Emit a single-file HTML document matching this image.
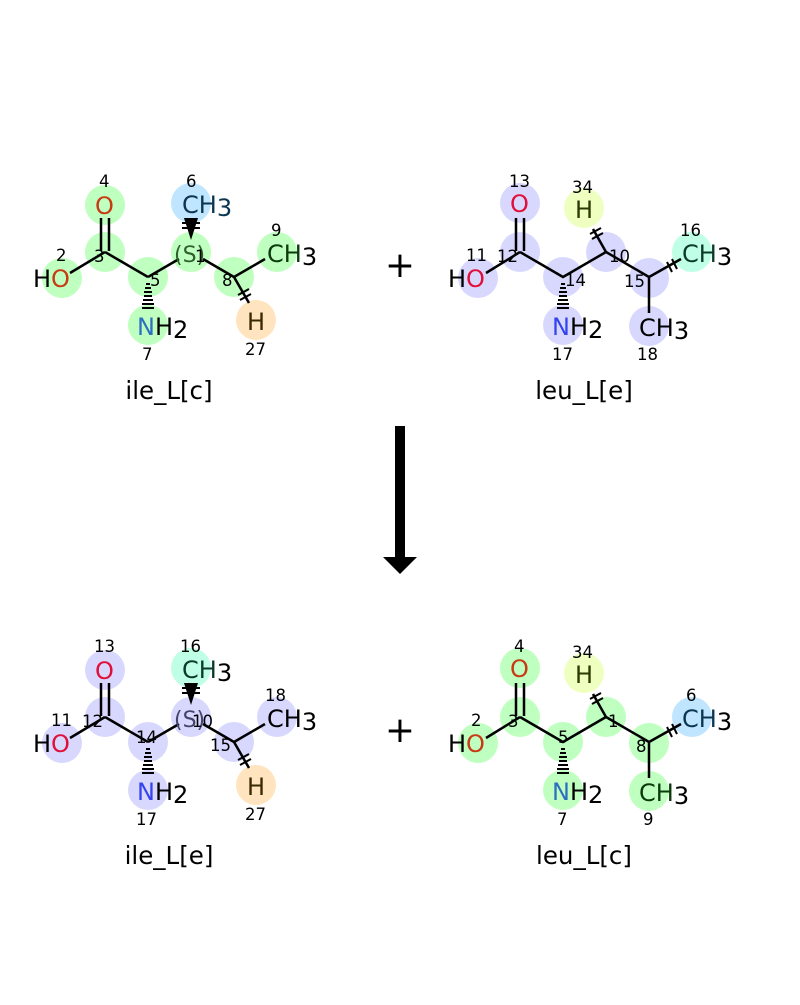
<!DOCTYPE html>
<html><head><meta charset="utf-8"><style>
html,body{margin:0;padding:0;background:#fff;}
svg text{font-family:"DejaVu Sans","Liberation Sans",sans-serif;}
.a{font-size:24px}
.n{font-size:16.5px;fill:#000}
.b{stroke:#000;stroke-width:2.5;fill:none}
</style></head><body>
<svg width="800" height="1000" viewBox="0 0 800 1000" xmlns="http://www.w3.org/2000/svg">
<rect width="800" height="1000" fill="#fff"/>

<g fill="#bfffbf">
<circle cx="62" cy="278" r="20"/><circle cx="105" cy="252" r="20"/><circle cx="105" cy="205" r="20"/>
<circle cx="148" cy="277" r="20"/><circle cx="148" cy="325" r="20"/><circle cx="191" cy="252" r="20"/>
<circle cx="234" cy="277" r="20"/><circle cx="277" cy="252" r="20"/>
</g>
<circle cx="191" cy="203" r="20" fill="#bfe5ff"/>
<circle cx="256" cy="320" r="20" fill="#ffe4bf"/>
<path class="b" d="M70,273 L105,252 M101,251 V218 M109,251 V218 M105,252 L148,277 M148,277 L179,259 M203,259 L234,277 L265,259 M234,277 L249,303"/>
<path d="M184,218 L198,218 L191,240 Z" fill="#000"/>
<path stroke="#000" stroke-width="2" d="M182,223 H200 M182,228 H200"/>
<path stroke="#000" stroke-width="2" d="M146,284 H150 M145,288 H151 M144,292 H152 M144,296 H152 M143,300 H153 M142,304 H154 M142,308 H154"/>
<path stroke="#000" stroke-width="2" d="M238,295 L249,289 M240,300 L251,294"/>
<g class="a">
<text x="33" y="287" fill="#000">H<tspan fill="#c83a14">O</tspan></text>
<text x="95" y="214" fill="#c83a14">O</text>
<text x="137" y="335" fill="#2e6fc0">N<tspan fill="#000">H</tspan><tspan fill="#000" dy="3">2</tspan></text>
<text x="182" y="213" fill="#0b3550">CH<tspan dy="3">3</tspan></text>
<text x="267" y="262" fill="#0b3a0b">CH<tspan fill="#000" dy="3">3</tspan></text>
<text x="247" y="330" fill="#3a2a00">H</text>
<text x="174" y="262" fill="#2f5f2f" font-size="22">(S)</text>
</g>
<g class="n">
<text x="99" y="187">4</text><text x="186" y="187">6</text><text x="56" y="261">2</text>
<text x="94" y="262">3</text><text x="150" y="286">5</text><text x="195" y="262">1</text>
<text x="222" y="286">8</text><text x="271" y="236">9</text><text x="142" y="360">7</text>
<text x="245" y="355">27</text>
</g>
<text x="169" y="399" font-size="24.5" text-anchor="middle">ile_L[c]</text>

<g fill="#d8d8ff">
<circle cx="478" cy="278" r="20"/><circle cx="520" cy="252" r="20"/><circle cx="520" cy="203" r="20"/>
<circle cx="563" cy="277" r="20"/><circle cx="563" cy="325" r="20"/><circle cx="606" cy="252" r="20"/>
<circle cx="649" cy="278" r="20"/><circle cx="649" cy="326" r="20"/>
</g>
<circle cx="584" cy="208" r="20" fill="#eeffc0"/>
<circle cx="692" cy="252" r="20" fill="#bfffe6"/>
<path class="b" d="M486,273 L520,252 M516,251 V218 M524,251 V218 M520,252 L563,277 L606,252 L649,277 L681,259 M606,252 L593,229 M649,277 V313"/>
<path stroke="#000" stroke-width="2" d="M561,284 H565 M560,288 H566 M559,292 H567 M559,296 H567 M558,300 H568 M557,304 H569 M557,308 H569"/>
<path stroke="#000" stroke-width="2" d="M590,234 L601,228 M592,239 L603,233 M667,262 L672,272 M672,259 L677,269"/>
<g class="a">
<text x="448" y="287" fill="#000">H<tspan fill="#e0103a">O</tspan></text>
<text x="510" y="212" fill="#e0103a">O</text>
<text x="552" y="335" fill="#3344ee">N<tspan fill="#000">H</tspan><tspan fill="#000" dy="3">2</tspan></text>
<text x="575" y="218" fill="#2a3a00">H</text>
<text x="682" y="262" fill="#0b3a2a">CH<tspan fill="#000" dy="3">3</tspan></text>
<text x="639" y="336" fill="#000">CH<tspan dy="3">3</tspan></text>
</g>
<g class="n">
<text x="509" y="187">13</text><text x="572" y="193">34</text><text x="466" y="261">11</text>
<text x="497" y="262">12</text><text x="565" y="286">14</text><text x="609" y="262">10</text>
<text x="624" y="287">15</text><text x="680" y="236">16</text><text x="552" y="360">17</text><text x="637" y="360">18</text>
</g>
<text x="584" y="399" font-size="24.5" text-anchor="middle">leu_L[e]</text>

<text x="400" y="277" font-size="36" text-anchor="middle">+</text>
<text x="400" y="742" font-size="36" text-anchor="middle">+</text>
<rect x="395" y="426" width="10" height="132" fill="#000"/>
<path d="M383,557 L417,557 L400,574 Z" fill="#000"/>

<g transform="translate(0,465)">
<g fill="#d8d8ff">
<circle cx="62" cy="278" r="20"/><circle cx="105" cy="252" r="20"/><circle cx="105" cy="205" r="20"/>
<circle cx="148" cy="277" r="20"/><circle cx="148" cy="325" r="20"/><circle cx="191" cy="252" r="20"/>
<circle cx="234" cy="277" r="20"/><circle cx="277" cy="252" r="20"/>
</g>
<circle cx="191" cy="203" r="20" fill="#bfffe6"/>
<circle cx="256" cy="320" r="20" fill="#ffe4bf"/>
<path class="b" d="M70,273 L105,252 M101,251 V218 M109,251 V218 M105,252 L148,277 M148,277 L179,259 M203,259 L234,277 L265,259 M234,277 L249,303"/>
<path d="M184,218 L198,218 L191,240 Z" fill="#000"/>
<path stroke="#000" stroke-width="2" d="M182,223 H200 M182,228 H200"/>
<path stroke="#000" stroke-width="2" d="M146,284 H150 M145,288 H151 M144,292 H152 M144,296 H152 M143,300 H153 M142,304 H154 M142,308 H154"/>
<path stroke="#000" stroke-width="2" d="M238,295 L249,289 M240,300 L251,294"/>
<g class="a">
<text x="33" y="287" fill="#000">H<tspan fill="#e0103a">O</tspan></text>
<text x="95" y="214" fill="#e0103a">O</text>
<text x="137" y="335" fill="#3344ee">N<tspan fill="#000">H</tspan><tspan fill="#000" dy="3">2</tspan></text>
<text x="182" y="213" fill="#0b3a2a">CH<tspan fill="#000" dy="3">3</tspan></text>
<text x="267" y="262" fill="#000">CH<tspan dy="3">3</tspan></text>
<text x="247" y="330" fill="#3a2a00">H</text>
<text x="174" y="262" fill="#44446a" font-size="22">(S)</text>
</g>
<g class="n">
<text x="94" y="187">13</text><text x="180" y="187">16</text><text x="51" y="261">11</text>
<text x="82" y="262">12</text><text x="136" y="278">14</text><text x="192" y="262">10</text>
<text x="210" y="286">15</text><text x="265" y="236">18</text><text x="136" y="360">17</text>
<text x="245" y="355">27</text>
</g>
<text x="169" y="399" font-size="24.5" text-anchor="middle">ile_L[e]</text>
</g>

<g transform="translate(0,465)">
<g fill="#bfffbf">
<circle cx="478" cy="278" r="20"/><circle cx="520" cy="252" r="20"/><circle cx="520" cy="203" r="20"/>
<circle cx="563" cy="277" r="20"/><circle cx="563" cy="325" r="20"/><circle cx="606" cy="252" r="20"/>
<circle cx="649" cy="278" r="20"/><circle cx="649" cy="326" r="20"/>
</g>
<circle cx="584" cy="208" r="20" fill="#eeffc0"/>
<circle cx="692" cy="252" r="20" fill="#bfe5ff"/>
<path class="b" d="M486,273 L520,252 M516,251 V218 M524,251 V218 M520,252 L563,277 L606,252 L649,277 L681,259 M606,252 L593,229 M649,277 V313"/>
<path stroke="#000" stroke-width="2" d="M561,284 H565 M560,288 H566 M559,292 H567 M559,296 H567 M558,300 H568 M557,304 H569 M557,308 H569"/>
<path stroke="#000" stroke-width="2" d="M590,234 L601,228 M592,239 L603,233 M667,262 L672,272 M672,259 L677,269"/>
<g class="a">
<text x="448" y="287" fill="#000">H<tspan fill="#c83a14">O</tspan></text>
<text x="510" y="212" fill="#c83a14">O</text>
<text x="552" y="335" fill="#2e6fc0">N<tspan fill="#000">H</tspan><tspan fill="#000" dy="3">2</tspan></text>
<text x="575" y="218" fill="#2a3a00">H</text>
<text x="682" y="262" fill="#0b3550">CH<tspan fill="#000" dy="3">3</tspan></text>
<text x="639" y="336" fill="#0b3a0b">CH<tspan fill="#000" dy="3">3</tspan></text>
</g>
<g class="n">
<text x="514" y="187">4</text><text x="572" y="193">34</text><text x="471" y="261">2</text>
<text x="508" y="262">3</text><text x="558" y="278">5</text><text x="608" y="262">1</text>
<text x="636" y="287">8</text><text x="686" y="236">6</text><text x="557" y="360">7</text><text x="643" y="360">9</text>
</g>
<text x="584" y="399" font-size="24.5" text-anchor="middle">leu_L[c]</text>
</g>
</svg>
</body></html>
